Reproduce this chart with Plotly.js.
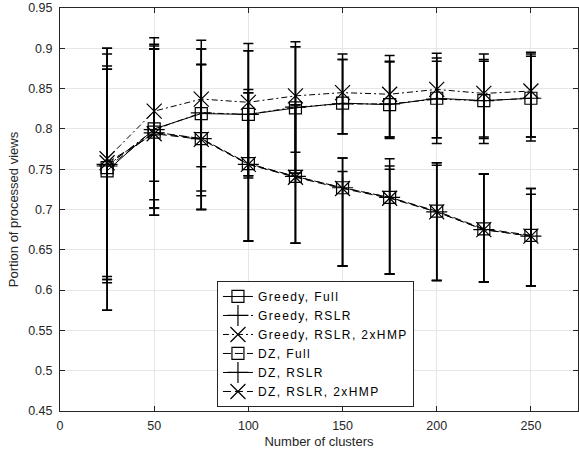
<!DOCTYPE html>
<html>
<head>
<meta charset="utf-8">
<script src="https://cdn.plot.ly/plotly-3.0.1.min.js"></script>
<style>
html,body{margin:0;padding:0;background:#fff;}
#chart{width:579px;height:453px;}
text.legendtext{letter-spacing:1.4px;}
</style>
</head>
<body>
<div id="chart"></div>
<script>
// Number of clusters
const clusters = [25, 50, 75, 100, 125, 150, 175, 200, 225, 250];

// Mean portion of processed views
const greedyFull  = [0.748, 0.800, 0.819, 0.818, 0.826, 0.832, 0.830, 0.838, 0.835, 0.838];
const greedyRSLR  = [0.754, 0.799, 0.820, 0.818, 0.827, 0.831, 0.831, 0.837, 0.835, 0.838];
const greedyHMP   = [0.763, 0.822, 0.837, 0.833, 0.841, 0.845, 0.843, 0.849, 0.844, 0.847];
const dzFull      = [0.752, 0.796, 0.788, 0.757, 0.741, 0.727, 0.715, 0.698, 0.676, 0.668];
const dzRSLR      = [0.756, 0.795, 0.788, 0.756, 0.741, 0.727, 0.715, 0.697, 0.675, 0.667];
const dzHMP       = [0.758, 0.794, 0.787, 0.756, 0.740, 0.726, 0.714, 0.697, 0.675, 0.667];

// Upper / lower ends of the error bars
const greedyFullHi = [0.900, 0.905, 0.899, 0.897, 0.902, 0.886, 0.884, 0.888, 0.886, 0.890];
const greedyFullLo = [0.575, 0.702, 0.723, 0.739, 0.771, 0.794, 0.790, 0.789, 0.790, 0.790];
const greedyRSLRHi = [0.893, 0.903, 0.899, 0.897, 0.902, 0.886, 0.883, 0.884, 0.884, 0.893];
const greedyRSLRLo = [0.613, 0.712, 0.717, 0.742, 0.745, 0.794, 0.788, 0.782, 0.782, 0.785];
const greedyHMPHi  = [0.900, 0.913, 0.910, 0.906, 0.908, 0.893, 0.891, 0.894, 0.893, 0.895];
const greedyHMPLo  = [0.617, 0.735, 0.753, 0.742, 0.745, 0.794, 0.790, 0.789, 0.788, 0.790];
const dzFullHi     = [0.878, 0.899, 0.880, 0.849, 0.830, 0.764, 0.763, 0.758, 0.744, 0.726];
const dzFullLo     = [0.609, 0.693, 0.700, 0.661, 0.658, 0.630, 0.620, 0.612, 0.610, 0.605];
const dzRSLRHi     = [0.874, 0.899, 0.880, 0.845, 0.830, 0.747, 0.754, 0.755, 0.744, 0.719];
const dzRSLRLo     = [0.575, 0.693, 0.700, 0.661, 0.658, 0.630, 0.620, 0.612, 0.610, 0.605];
const dzHMPHi      = [0.874, 0.899, 0.880, 0.845, 0.830, 0.764, 0.750, 0.758, 0.744, 0.726];
const dzHMPLo      = [0.613, 0.702, 0.700, 0.661, 0.658, 0.630, 0.620, 0.612, 0.610, 0.605];

const names = ['Greedy, Full', 'Greedy, RSLR', 'Greedy, RSLR, 2xHMP', 'DZ, Full', 'DZ, RSLR', 'DZ, RSLR, 2xHMP'];
const yTickVals = [0.45, 0.5, 0.55, 0.6, 0.65, 0.7, 0.75, 0.8, 0.85, 0.9, 0.95];
const yTickText = ['0.45', '0.5', '0.55', '0.6', '0.65', '0.7', '0.75', '0.8', '0.85', '0.9', '0.95'];
const xTickVals = [0, 50, 100, 150, 200, 250];

const series = [
  {y: greedyFull, hi: greedyFullHi, lo: greedyFullLo, sym: 'square-open', size: 12, dash: 'solid'},
  {y: greedyRSLR, hi: greedyRSLRHi, lo: greedyRSLRLo, sym: 'cross-thin-open', size: 15, dash: '6px,3px,2px,3px'},
  {y: greedyHMP,  hi: greedyHMPHi,  lo: greedyHMPLo,  sym: 'x-thin-open', size: 15, dash: '6px,3px,2px,3px'},
  {y: dzFull,     hi: dzFullHi,     lo: dzFullLo,     sym: 'square-open', size: 12, dash: '8px,4px'},
  {y: dzRSLR,     hi: dzRSLRHi,     lo: dzRSLRLo,     sym: 'cross-thin-open', size: 15, dash: '8px,4px'},
  {y: dzHMP,      hi: dzHMPHi,      lo: dzHMPLo,      sym: 'x-thin-open', size: 15, dash: '8px,4px'}
];

// error bars as separate, legend-less traces
const errTraces = series.map((s, i) => ({
  x: clusters,
  y: s.y,
  name: names[i] + ' (range)',
  type: 'scatter',
  mode: 'markers',
  showlegend: false,
  marker: {size: 1, color: 'rgba(0,0,0,0)'},
  error_y: {
    type: 'data', symmetric: false,
    array: s.hi.map((h, k) => h - s.y[k]),
    arrayminus: s.lo.map((l, k) => s.y[k] - l),
    color: '#000', thickness: 1.5, width: 5
  }
}));

const lineTraces = series.map((s, i) => ({
  x: clusters,
  y: s.y,
  name: names[i],
  type: 'scatter',
  mode: 'lines+markers',
  line: {color: '#000', width: 1, dash: s.dash},
  marker: {symbol: s.sym, size: s.size, color: '#000', line: {color: '#000', width: 1.2}}
}));

const fam = 'Liberation Sans, Arial, sans-serif';
const axisCommon = {
  showline: true, linecolor: '#262626', linewidth: 1, mirror: 'ticks',
  ticks: 'inside', ticklen: 5, tickcolor: '#262626',
  showgrid: true, gridcolor: '#e6e6e6', gridwidth: 1, zeroline: false,
  tickfont: {family: fam, size: 12.5, color: '#262626'}
};

const layout = {
  width: 579, height: 453,
  margin: {l: 60, r: 1, t: 8, b: 42},
  paper_bgcolor: '#fff', plot_bgcolor: '#fff',
  showlegend: true,
  font: {family: fam, size: 13, color: '#262626'},
  xaxis: Object.assign({}, axisCommon, {
    range: [0, 275], tickvals: xTickVals, ticktext: xTickVals.map(String),
    ticklabelstandoff: 3,
    title: {text: 'Number of clusters', font: {family: fam, size: 13, color: '#262626'}, standoff: 4}
  }),
  yaxis: Object.assign({}, axisCommon, {
    range: [0.45, 0.95], tickvals: yTickVals, ticktext: yTickText,
    ticklabelstandoff: 4,
    title: {text: 'Portion of processed views', font: {family: fam, size: 13, color: '#262626'}, standoff: 6}
  }),
  legend: {
    x: 0.303, y: 0.01, xanchor: 'left', yanchor: 'bottom',
    bgcolor: '#fff', bordercolor: '#262626', borderwidth: 1,
    font: {family: fam, size: 12, color: '#000'},
    tracegroupgap: 0
  }
};

Plotly.newPlot('chart', errTraces.concat(lineTraces), layout, {staticPlot: true, displayModeBar: false});
</script>
</body>
</html>
